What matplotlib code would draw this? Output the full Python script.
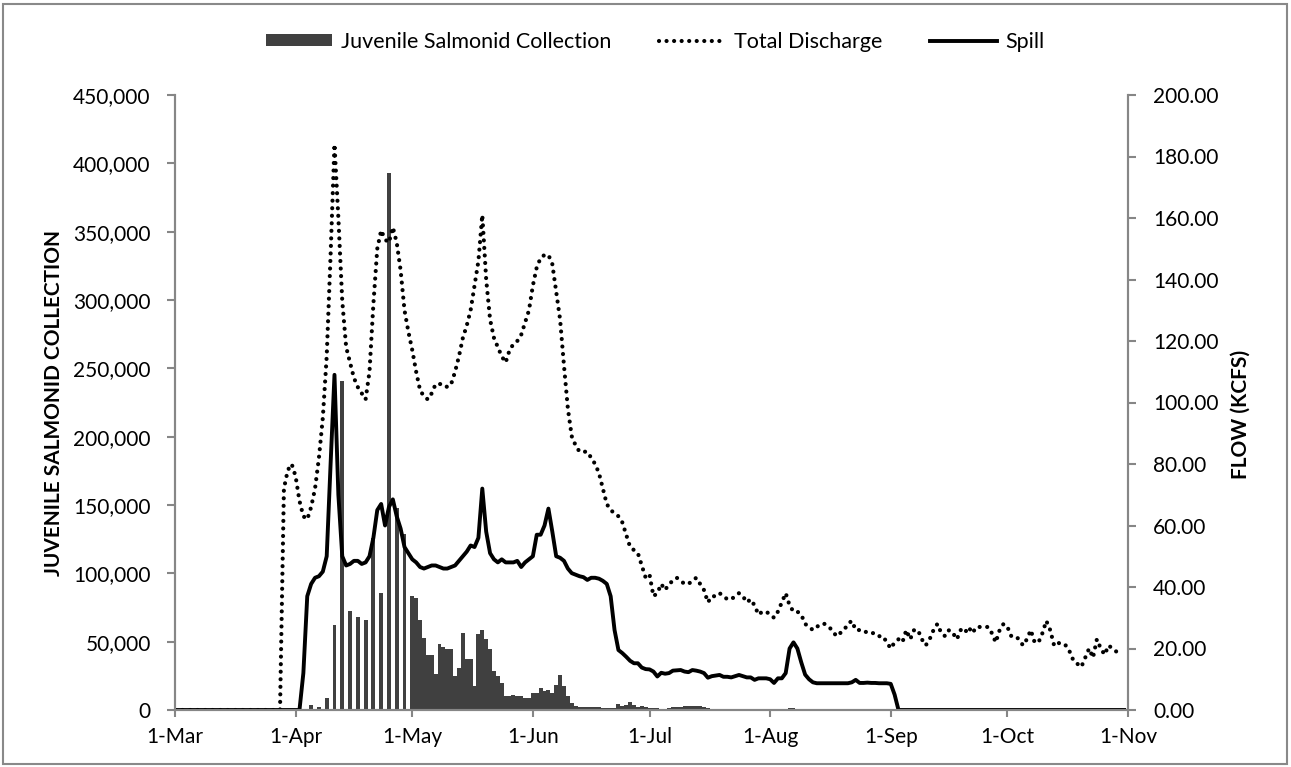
import numpy as np
import pandas as pd
import matplotlib
matplotlib.use("Agg")
import matplotlib.pyplot as plt
import matplotlib.dates as mdates
from matplotlib.patches import Rectangle, Patch
from matplotlib.lines import Line2D
from matplotlib.ticker import FuncFormatter, MultipleLocator

# daily series, 1-Mar .. 31-Oct
dates = pd.date_range("2013-03-01", "2013-10-31", freq="D")

# juvenile salmonid collection (fish per day)
collection = (
    [0] * 35
    + [3700, 0, 2400, 0, 9000, 0, 62000, 0, 240500, 0, 72500, 0, 68000, 0,
       66000, 0, 125500, 0, 85500, 0, 393000, 0, 148000, 0, 128500, 0]          # 35-60
    + [83400, 81700, 65900, 53000, 40000, 40000, 26300, 48300, 46000, 45000,
       45000, 25000, 30500, 56000, 37600, 37600, 17600, 55600, 58500, 51700,
       44900, 28800, 24900, 20000, 10500, 10500, 11000, 10200, 10200, 8800,
       8800, 12200, 12200, 15900, 14200, 14600, 12700, 18500, 25600, 17800,
       10500, 5400, 2900, 1900, 1900, 1900, 1900, 1900, 1900, 1200,
       1200, 1200, 1200, 4100, 2900, 3900, 6100, 3700, 1900, 2900,
       1900]                                                                   # 61-121
    + [1500, 1200, 1200, 1000, 1000, 1500, 2000, 2200, 2500, 2700,
       2900, 3000, 2800, 2600, 2000, 1200, 800, 600, 500, 500,
       400, 400, 400, 400, 300, 300, 300, 300, 300, 300,
       300, 400, 500, 600, 800, 1000, 1200, 1200, 1000, 800,
       600, 400, 300, 300]                                                     # 122-165
    + [200] * 10 + [100] * 69                                                  # 166-244
)

# total discharge (kcfs)
discharge = (
    [0] * 28
    + [72, 78, 80, 76, 68, 63, 62, 66, 72, 82,
       95, 115, 148, 184, 160, 133, 118, 113, 108, 105,
       103, 101, 110, 132, 150, 156, 153, 152, 157, 152,
       143, 130, 123, 117, 110, 104, 102, 101, 103, 106,
       106, 106, 105, 106, 110, 115, 121, 125, 130, 138,
       146, 161, 140, 127, 121, 118, 115, 113, 117, 119,
       120, 122, 126, 130, 138, 144, 147, 148, 148, 145,
       136, 127, 112, 98, 89, 86, 84, 84, 84, 82,
       80, 77, 72, 67, 65, 64, 63, 61, 57, 53,
       52, 51, 47, 43, 44, 37, 38, 41, 39, 41]                                 # 28-127
    + [42, 43, 42, 41, 41, 42, 43, 41, 39, 35,
       37, 37, 38, 37, 36, 36, 37, 38, 37, 35,
       36, 34, 31, 32, 32, 31, 30, 32, 35, 38,
       34, 32, 32, 31, 28, 27, 26, 27, 28, 28,
       27, 26, 24, 25, 26, 28, 29, 26, 26, 26,
       25, 25, 25, 24, 24, 22, 20, 22, 23, 22,
       26, 23, 26, 26, 23, 21, 23, 26, 28, 25,
       24, 26, 25, 23, 26, 25, 27, 25, 27, 27,
       27, 27, 25, 22, 26, 28, 27, 24, 24, 23,
       21, 23, 26, 22, 22, 25, 29, 26, 21, 22,
       21, 21, 19, 16, 15, 14, 17, 20, 17, 23,
       20, 18, 21, 20, 19, 20, np.nan]                                         # 128-244
)

# spill (kcfs)
spill = (
    [0] * 33
    + [12, 37, 41, 43, 43.5, 45, 50, 80, 109, 70,
       50, 47, 47.5, 48.5, 48.5, 47.5, 48, 50, 56, 65,
       67, 60, 66, 68.5, 63, 59, 53, 51, 49, 48,
       46.5, 46, 46.5, 47, 47, 46.5, 46, 46, 46.5, 47,
       48.5, 50, 51.5, 53.5, 53, 56, 72, 58, 51, 49,
       48, 49, 48, 48, 48, 48.5, 46.5, 48, 49, 50,
       57, 57, 60, 65.5, 58, 50, 49.5, 48.5, 46, 44.5,
       44, 43.5, 43.2, 42.3, 43, 43, 42.7, 42, 41, 37,
       26, 19.5, 18.5, 17.3, 16, 15.2, 15.2, 13.8, 13.3, 13.2]                 # 33-122
    + [12.5, 10.9, 12.1, 11.8, 12, 12.8, 12.9, 13, 12.5, 12.3,
       13, 12.8, 12.5, 12, 10.5, 11, 11.2, 11.4, 10.8, 10.8,
       10.6, 11, 11.4, 11, 10.6, 10.6, 9.8, 10.3, 10.3, 10.3,
       10, 8.8, 10.3, 10.3, 12, 20, 22, 20, 15.5, 11.5,
       10, 9, 8.7, 8.7, 8.7, 8.7, 8.7, 8.7, 8.7, 8.7,
       8.7, 9, 9.8, 8.8, 8.8, 8.9, 8.8, 8.8, 8.7, 8.7,
       8.7, 8.5, 5]                                                            # 123-185
    + [0] * 59                                                                 # 186-244
)

bar_color = "#404040"
axis_gray = "#868686"
dotted = (0, (0.01, 1.8))

plt.rcParams["font.family"] = ["Lato", "DejaVu Sans"]

fig = plt.figure(figsize=(12.91, 7.67), dpi=100)
ax = fig.add_axes([175 / 1291, 57 / 767, 953 / 1291, 615 / 767])
ax2 = ax.twinx()

ax.bar(dates, collection, width=1.0, color=bar_color, linewidth=0)
ax2.plot(dates, discharge, color="black", linewidth=3.0,
         linestyle=dotted, dash_capstyle="round")
ax2.plot(dates, spill, color="black", linewidth=2.8, solid_joinstyle="round")

ax.set_xlim(pd.Timestamp("2013-03-01"), pd.Timestamp("2013-11-01"))
ax.set_ylim(0, 450000)
ax2.set_ylim(0, 200)

ax.xaxis.set_major_locator(mdates.MonthLocator())
ax.xaxis.set_major_formatter(FuncFormatter(
    lambda v, p: "{}-{}".format(mdates.num2date(v).day, mdates.num2date(v).strftime("%b"))))
ax.yaxis.set_major_locator(MultipleLocator(50000))
ax.yaxis.set_major_formatter(FuncFormatter(lambda v, p: "{:,.0f}".format(v)))
ax2.yaxis.set_major_locator(MultipleLocator(20))
ax2.yaxis.set_major_formatter(FuncFormatter(lambda v, p: "{:.2f}".format(v)))

for a in (ax, ax2):
    a.spines["top"].set_visible(False)
    for s in ("left", "right", "bottom"):
        a.spines[s].set_color(axis_gray)
        a.spines[s].set_linewidth(1.5)
ax.tick_params(axis="y", direction="out", length=6, width=1.5, color=axis_gray,
               labelsize=15, pad=11.5)
ax.tick_params(axis="x", direction="out", length=5, width=1.5, color=axis_gray,
               labelsize=15, pad=7)
ax2.tick_params(axis="y", direction="out", length=6, width=1.5, color=axis_gray,
                labelsize=15, pad=12)

ax.set_ylabel("JUVENILE SALMONID COLLECTION", fontsize=15, fontweight="bold")
ax.yaxis.set_label_coords(-0.1165, 0.5)
ax2.set_ylabel("FLOW (KCFS)", fontsize=15, fontweight="bold")
ax2.yaxis.set_label_coords(1.108, 0.48)

handles = [
    Patch(facecolor=bar_color, edgecolor="none"),
    Line2D([], [], color="black", linewidth=3.0, linestyle=dotted,
           dash_capstyle="round"),
    Line2D([], [], color="black", linewidth=2.8),
]
fig.legend(handles, ["Juvenile Salmonid Collection", "Total Discharge", "Spill"],
           loc="center", bbox_to_anchor=(655 / 1291, 1 - 42 / 767), ncol=3,
           frameon=False, fontsize=15.5, handlelength=3.1, handleheight=0.5,
           handletextpad=0.4, columnspacing=2.2)

fig.patches.append(Rectangle((3 / 1291, 3 / 767), 1284 / 1291, 760 / 767,
                             transform=fig.transFigure, fill=False,
                             edgecolor="#898989", linewidth=1.5))

fig.savefig("out.png", dpi=100)
